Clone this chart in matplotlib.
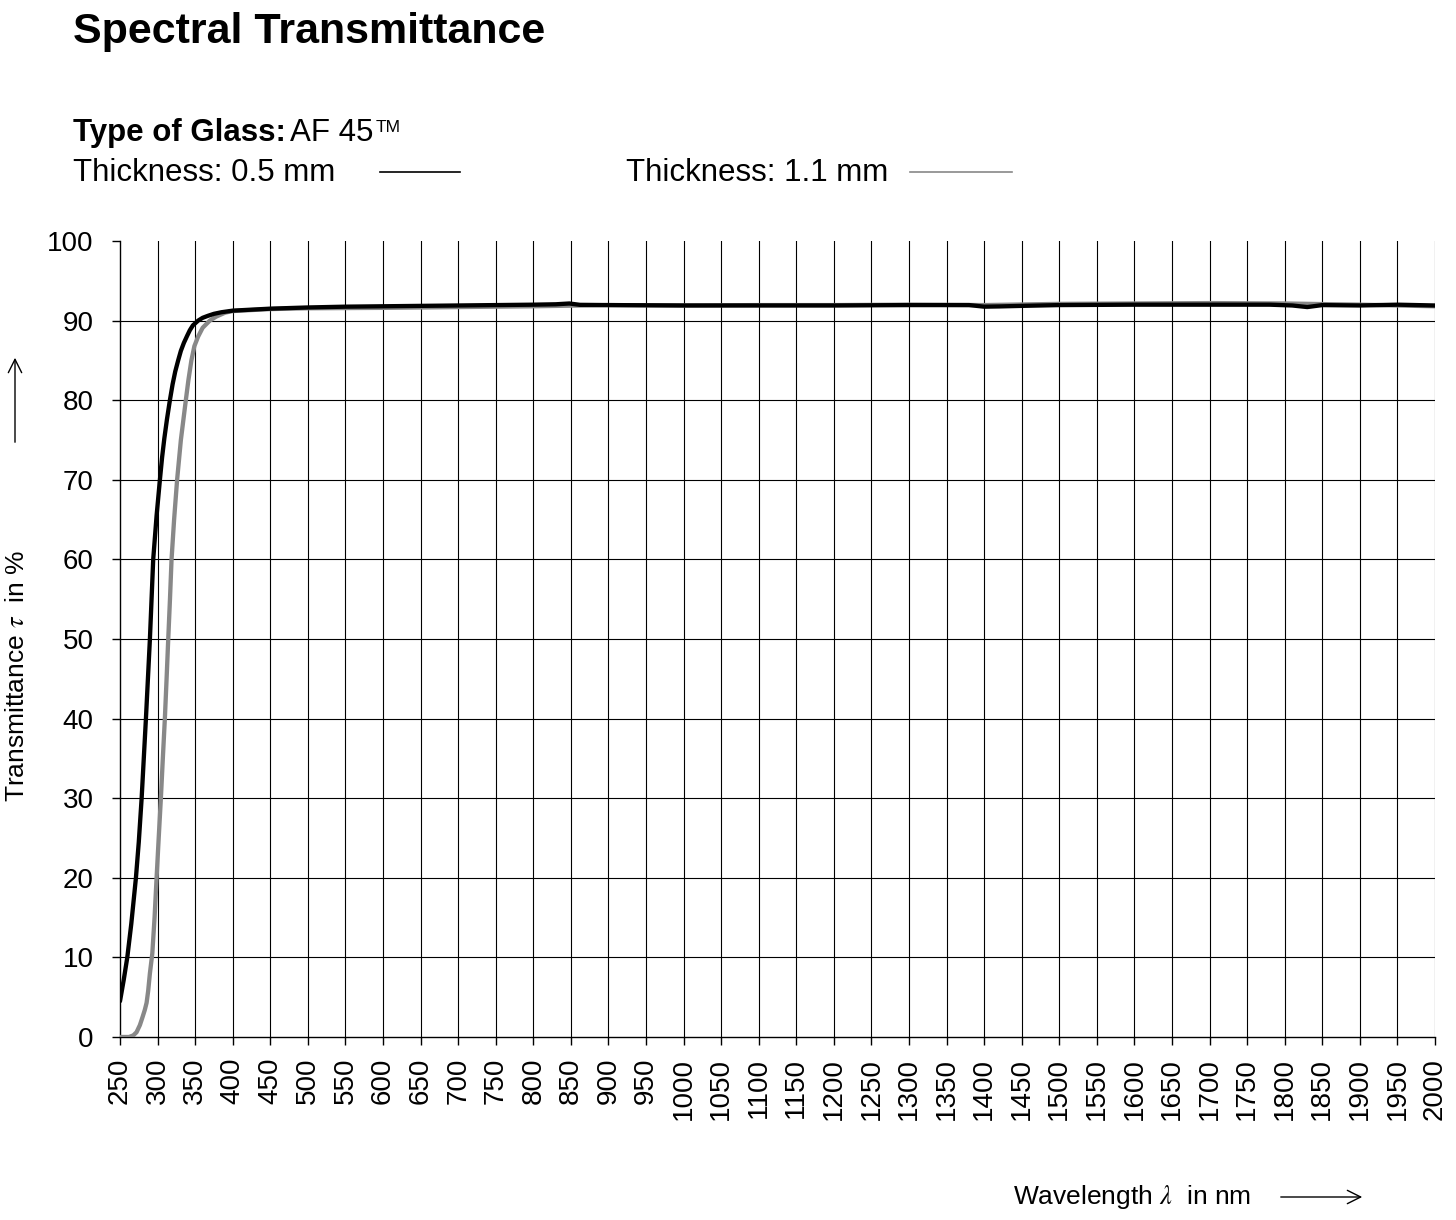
import matplotlib
matplotlib.use("Agg")
import matplotlib.pyplot as plt
from matplotlib.lines import Line2D

plt.rcParams['font.family'] = ['Liberation Sans', 'DejaVu Sans']
plt.rcParams['mathtext.fontset'] = 'stix'

# Dicke 0,5 mm (schwarz)
wl_05 = [250, 255, 259.7, 265, 271.2, 275, 278.8, 284.5, 289.8, 294.2, 298.7,
         303.1, 306, 309, 312.5, 316.4, 320, 323.5, 327.4, 331, 335, 339.4,
         343, 347, 354, 360, 367, 375, 385, 400,
         450, 500, 550, 600, 650, 700, 750, 800, 830, 848, 862, 900, 1000,
         1100, 1200, 1300, 1350, 1380, 1400, 1420, 1450, 1500, 1600, 1700,
         1780, 1810, 1830, 1850, 1900, 1950, 2000]
t_05 = [4.5, 7.2, 10, 14.2, 20, 24.5, 30, 40, 50, 60, 65.5,
        70, 72.8, 75.2, 77.6, 80, 82, 83.6, 85, 86.2, 87.2, 88.1,
        88.8, 89.4, 90, 90.35, 90.6, 90.85, 91.05, 91.25,
        91.5, 91.65, 91.75, 91.8, 91.85, 91.9, 91.95, 92.0, 92.05, 92.15, 91.98, 91.95, 91.9,
        91.9, 91.9, 91.95, 91.95, 91.95, 91.75, 91.78, 91.85, 91.95, 92.0, 92.0,
        92.0, 91.9, 91.7, 91.95, 91.9, 92.0, 91.9]

# Dicke 1,1 mm (grau)
wl_11 = [250, 262, 267.7, 272, 276.5, 280, 283, 285.4, 287.5, 289.8, 293, 296, 298.7,
         301.5, 304.4, 307, 309.7, 312, 314.2, 316.5, 318.6, 322, 326, 331,
         337.6, 341, 345, 349, 354, 360, 369.5, 378, 390, 400,
         450, 500, 600, 700, 800, 900, 1000,
         1100, 1200, 1300, 1400, 1500, 1600, 1700, 1800, 1900, 2000]
t_11 = [0, 0, 0.2, 0.6, 1.5, 2.5, 3.4, 4.3, 5.8, 8, 10.5, 15, 20,
        25, 30, 35, 40, 45, 50, 55, 60, 65, 70, 75,
        80, 82.5, 85, 86.8, 88, 89.1, 90, 90.5, 91, 91.2,
        91.45, 91.55, 91.6, 91.7, 91.8, 91.95, 91.9,
        91.95, 91.95, 92.0, 91.95, 92.1, 92.15, 92.2, 92.15, 92.0, 91.8]

x_ticks = list(range(250, 2001, 50))
y_ticks = list(range(0, 101, 10))

W, H = 1456, 1220
fig = plt.figure(figsize=(W / 100, H / 100), dpi=100)
ax = fig.add_axes([120 / W, 1 - 1037 / H, (1435 - 120) / W, (1037 - 241) / H])

ax.plot(wl_11, t_11, color='#888888', lw=3.1, solid_capstyle='round',
        solid_joinstyle='round', zorder=3)
ax.plot(wl_05, t_05, color='black', lw=3.1, solid_capstyle='round',
        solid_joinstyle='round', zorder=4)

ax.set_xlim(250, 2000)
ax.set_ylim(0, 100)
ax.set_xticks(x_ticks)
ax.set_xticklabels([str(v) for v in x_ticks], rotation=90, fontsize=20)
ax.set_yticks(y_ticks)
ax.set_yticklabels([str(v) for v in y_ticks], fontsize=20)
ax.tick_params(axis='both', direction='out', length=6, width=1, color='black')
ax.tick_params(axis='x', pad=9)
ax.tick_params(axis='y', pad=13)

# Gitternetz
for v in x_ticks[1:]:
    ax.axvline(v, color='black', lw=0.8, zorder=1)
for v in y_ticks[1:-1]:
    ax.axhline(v, color='black', lw=0.8, zorder=1)

for s in ['top', 'right']:
    ax.spines[s].set_visible(False)
for s in ['left', 'bottom']:
    ax.spines[s].set_linewidth(1)

def fy(y):
    return 1 - y / H

fig.text(73 / W, fy(43), 'Spectral Transmittance', fontsize=31, fontweight='bold',
         ha='left', va='baseline')
fig.text(73 / W, fy(141), 'Type of Glass:', fontsize=22.5, fontweight='bold',
         ha='left', va='baseline')
fig.text(290 / W, fy(141), 'AF 45', fontsize=22.5, ha='left', va='baseline')
fig.text(376 / W, fy(132), 'TM', fontsize=12.5, ha='left', va='baseline')
fig.text(73 / W, fy(181), 'Thickness: 0.5 mm', fontsize=22.5, ha='left', va='baseline')
fig.text(626 / W, fy(181), 'Thickness: 1.1 mm', fontsize=22.5, ha='left', va='baseline')
fig.add_artist(Line2D([380 / W, 460 / W], [fy(172), fy(172)], color='black', lw=1.2))
fig.add_artist(Line2D([910 / W, 1012 / W], [fy(172), fy(172)], color='#888888', lw=1.2))

fig.text(1013 / W, fy(1197), r'Wavelength $\lambda$  in nm', fontsize=19,
         ha='left', va='center')
fig.text(17 / W, fy(802), r'Transmittance $\tau$  in %', fontsize=19,
         rotation=90, ha='center', va='bottom')

ax.annotate('', xy=(1365, H - 1197), xytext=(1278, H - 1197), xycoords='figure pixels',
            textcoords='figure pixels',
            arrowprops=dict(arrowstyle='->', color='black', lw=1, mutation_scale=24))
ax.annotate('', xy=(15, H - 355), xytext=(15, H - 445), xycoords='figure pixels',
            textcoords='figure pixels',
            arrowprops=dict(arrowstyle='->', color='black', lw=1, mutation_scale=24))

fig.savefig('out.png', dpi=100, facecolor='white')
